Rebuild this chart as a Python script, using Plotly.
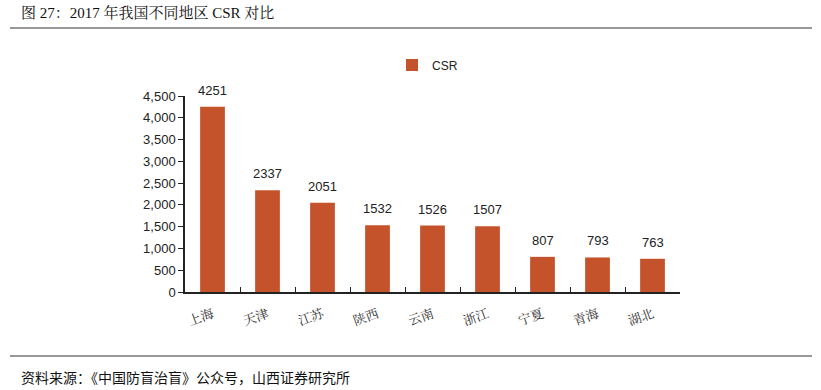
import plotly.graph_objects as go

categories = ["上海", "天津", "江苏", "陕西", "云南", "浙江", "宁夏", "青海", "湖北"]
csr_values = [4251, 2337, 2051, 1532, 1526, 1507, 807, 793, 763]
y_ticks = [0, 500, 1000, 1500, 2000, 2500, 3000, 3500, 4000, 4500]

title_text = "图 27：2017 年我国不同地区 CSR 对比"
source_text = "资料来源：《中国防盲治盲》公众号，山西证券研究所"

bar_color = "#C4532B"

W, H = 821, 390
L, T = 185, 96
R = W - 680
B = H - 292
pw, ph = W - L - R, H - T - B

def px_x(x):
    return (x - L) / pw

def px_y(y):
    return (H - B - y) / ph

fig = go.Figure()
fig.add_trace(go.Bar(
    x=categories, y=csr_values, name="CSR",
    marker=dict(color=bar_color, line=dict(width=0)),
))

value_labels = [
    dict(x=c, y=v, xref="x", yref="y", text=str(v), showarrow=False,
         yanchor="bottom", yshift=7,
         font=dict(family="Liberation Sans, Arial", size=13, color="#222"))
    for c, v in zip(categories, csr_values)
]

fig.update_layout(
    width=W, height=H,
    margin=dict(l=L, r=R, t=T, b=B),
    paper_bgcolor="white", plot_bgcolor="white",
    bargap=0.55,
    showlegend=True,
    legend=dict(x=px_x(392), y=px_y(65), xanchor="left", yanchor="middle",
                font=dict(family="Liberation Sans, Arial", size=12, color="#222"),
                itemwidth=30,
                bgcolor="rgba(0,0,0,0)", tracegroupgap=0),
    font=dict(family="Liberation Sans, Arial", color="#222"),
    xaxis=dict(
        showline=True, linecolor="#222", linewidth=1.5,
        ticks="inside", tickson="boundaries", ticklen=5, tickcolor="#222",
        tickangle=-20, ticklabelstandoff=8,
        tickfont=dict(family="Noto Serif CJK SC, Noto Sans CJK SC", size=13, color="#333"),
        showgrid=False, zeroline=False,
    ),
    yaxis=dict(
        range=[0, 4500], tickvals=y_ticks, tickformat=",",
        showline=True, linecolor="#222", linewidth=1.5,
        ticks="outside", ticklen=5, tickcolor="#222",
        tickfont=dict(family="Liberation Sans, Arial", size=13, color="#222"),
        showgrid=False, zeroline=False,
    ),
    shapes=[
        dict(type="line", xref="paper", yref="paper", x0=px_x(10), x1=px_x(812),
             y0=px_y(28), y1=px_y(28), line=dict(color="#333", width=1.2)),
        dict(type="line", xref="paper", yref="paper", x0=px_x(10), x1=px_x(812),
             y0=px_y(356), y1=px_y(356), line=dict(color="#333", width=1.2)),
    ],
    annotations=value_labels + [
        dict(text=title_text, xref="paper", yref="paper", x=px_x(19), y=px_y(12),
             xanchor="left", yanchor="middle", showarrow=False,
             font=dict(family="Liberation Serif, Noto Serif CJK SC, Noto Sans CJK SC", size=15, color="#111")),
        dict(text=source_text, xref="paper", yref="paper", x=px_x(19), y=px_y(377),
             xanchor="left", yanchor="middle", showarrow=False,
             font=dict(family="Noto Sans CJK SC", size=14, color="#111")),
    ],
)

fig.write_html("out.html",
               config={"displayModeBar": False},
               post_script="document.body.style.margin='0';document.body.style.overflow='hidden';")
